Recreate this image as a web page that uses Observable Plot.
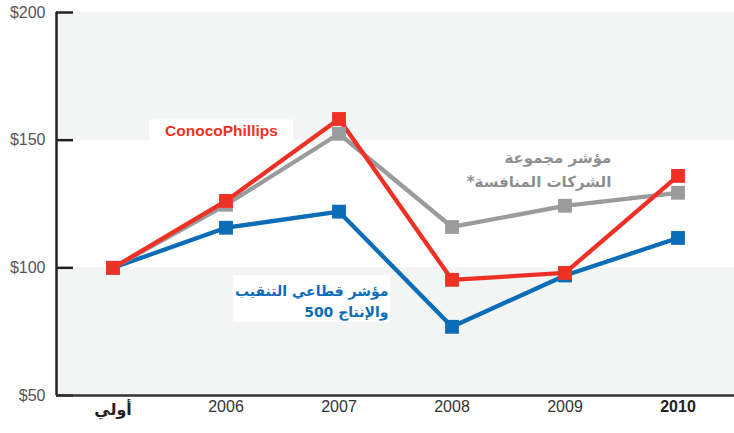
<!DOCTYPE html>
<html><head><meta charset="utf-8">
<script src="https://cdn.jsdelivr.net/npm/d3@7"></script>
<script src="https://cdn.jsdelivr.net/npm/@observablehq/plot@0.6"></script>
<style>body{margin:0;background:#fff;font-family:"Liberation Sans",Arial,sans-serif}</style>
</head><body><div id="chart"></div>
<script>
// ---- data ----
const categories = ["أولي", "2006", "2007", "2008", "2009", "2010"];
const conocoValues = [100, 126.2, 158.3, 95.3, 98, 136];
const peerValues = [100, 124.7, 152.5, 116, 124.3, 129.4];
const spValues = [100, 115.7, 122, 76.9, 97, 111.7];
const yTicks = [50, 100, 150, 200];
const labelConoco = "ConocoPhillips";
const labelPeers = ["مؤشر مجموعة", "الشركات المنافسة*\u200F"];
const labelSP = ["مؤشر قطاعي التنقيب", "والإنتاج 500"];

const W = 734, H = 433, mL = 56, mR = 0, mT = 12, mB = 38;
const red = "#ee3124", gray = "#9a9b9d", blue = "#0b6cb8";
const toRows = vals => vals.map((v, i) => ({i, v}));
const conoco = toRows(conocoValues), peers = toRows(peerValues), sp = toRows(spValues);

const chart = Plot.plot({
  width: W, height: H,
  marginLeft: mL, marginRight: mR, marginTop: mT, marginBottom: mB,
  style: {fontFamily: '"Liberation Sans", Arial, sans-serif', background: "#fff"},
  x: {type: "linear", domain: [-0.5, categories.length - 0.5], axis: null},
  y: {domain: [50, 200], axis: null},
  marks: [
    Plot.rect([{y1: 50, y2: 100}, {y1: 150, y2: 200}], {y1: "y1", y2: "y2", fill: "#f3f4f4"}),
    Plot.axisY({ticks: yTicks, tickSize: 0, tickPadding: 11, tickFormat: d => "$" + d, fontSize: 16, fill: "#555"}),
    Plot.ruleY(yTicks, {stroke: "#222", strokeWidth: 2.5, insetRight: W - mL - mR - 17}),
    Plot.ruleX([-0.5], {y1: 50, y2: 200, stroke: "#222", strokeWidth: 2.5}),
    Plot.ruleY([50], {stroke: "#333", strokeWidth: 2.5}),
    // label boxes
    Plot.rect([{x1: 0.323, x2: 1.597, y1: 149.7, y2: 157.9}], {x1: "x1", x2: "x2", y1: "y1", y2: "y2", fill: "#fff"}),
    Plot.rect([{x1: 1.066, x2: 2.456, y1: 78.5, y2: 96.9}], {x1: "x1", x2: "x2", y1: "y1", y2: "y2", fill: "#fff"}),
    // lines
    Plot.line(sp, {x: "i", y: "v", stroke: blue, strokeWidth: 4.3}),
    Plot.line(peers, {x: "i", y: "v", stroke: gray, strokeWidth: 4.3}),
    Plot.line(conoco, {x: "i", y: "v", stroke: red, strokeWidth: 4.3}),
    Plot.dot(sp, {x: "i", y: "v", symbol: "square", r: 7.8, fill: blue}),
    Plot.dot(peers, {x: "i", y: "v", symbol: "square", r: 7.8, fill: gray}),
    Plot.dot(conoco, {x: "i", y: "v", symbol: "square", r: 7.8, fill: red}),
    // x labels
    Plot.text(categories.slice(1, -1).map((c, k) => ({c, i: k + 1})), {x: "i", text: "c", frameAnchor: "bottom", dy: 16, fontSize: 16, fill: "#333"}),
    Plot.text([{c: categories[categories.length - 1], i: categories.length - 1}], {x: "i", text: "c", frameAnchor: "bottom", dy: 16, fontSize: 16, fontWeight: "bold", fill: "#222"}),
    Plot.text([{c: categories[0], i: 0}], {x: "i", text: "c", frameAnchor: "bottom", dy: 19, fontSize: 16, fontWeight: "bold", fill: "#222", fontFamily: "DejaVu Sans"}),
    // series labels
    Plot.text([labelConoco], {x: 0.96, y: 153.6, text: d => d, fill: red, fontWeight: "bold", fontSize: 15.5}),
    Plot.text(labelPeers.map((t, k) => ({t, y: [143.1, 133.7][k]})), {x: 4.41, y: "y", text: "t", textAnchor: "end", fill: "#8e8f91", fontWeight: "bold", fontSize: 15, fontFamily: "DejaVu Sans"}),
    Plot.text(labelSP.map((t, k) => ({t, y: [90.6, 82.4][k]})), {x: 2.438, y: "y", text: "t", textAnchor: "end", fill: blue, fontWeight: "bold", fontSize: 14, fontFamily: "DejaVu Sans"})
  ]
});
document.getElementById("chart").append(chart);
</script></body></html>
